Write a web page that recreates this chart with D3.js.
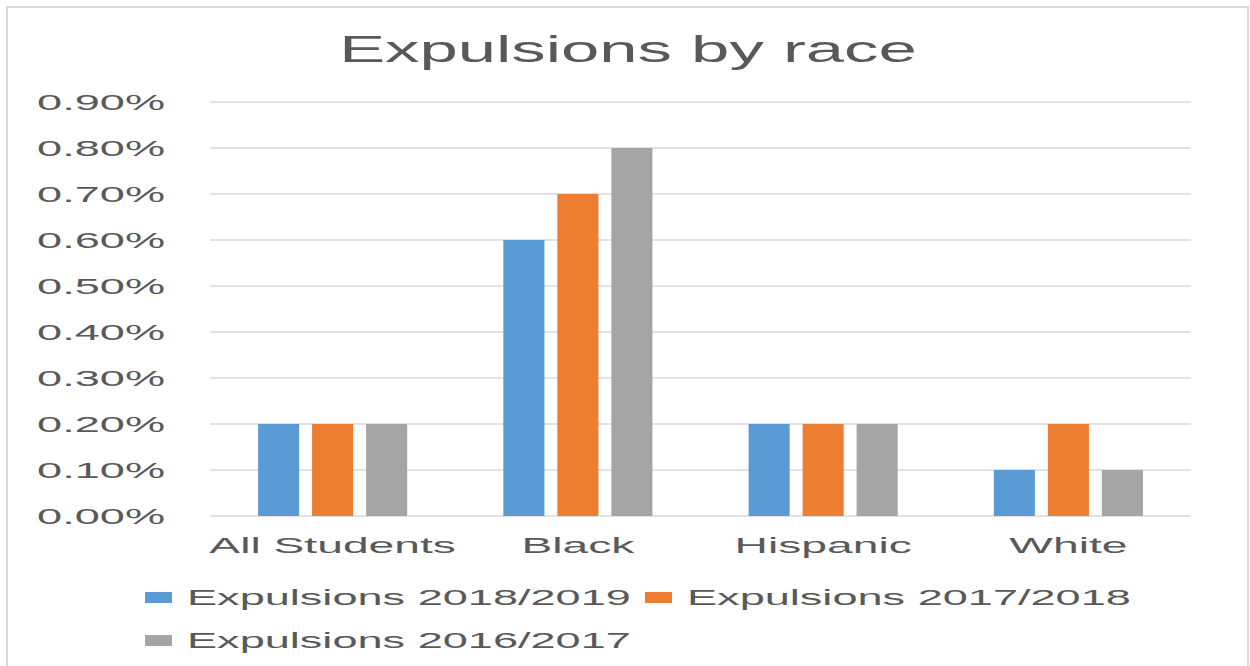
<!DOCTYPE html>
<html>
<head>
<meta charset="utf-8">
<script src="https://cdn.jsdelivr.net/npm/d3@7"></script>
<style>
  body { margin: 0; background: #fff; }
  text { font-family: "Liberation Sans", Arial, sans-serif; fill: #595959; }
</style>
</head>
<body>
<div id="chart"></div>
<script>
// data
const categories = ["All Students", "Black", "Hispanic", "White"];
const seriesNames = ["Expulsions 2018/2019", "Expulsions 2017/2018", "Expulsions 2016/2017"];
const values2018 = [0.2, 0.6, 0.2, 0.1];
const values2017 = [0.2, 0.7, 0.2, 0.2];
const values2016 = [0.2, 0.8, 0.2, 0.1];
const yTicks = [0, 0.1, 0.2, 0.3, 0.4, 0.5, 0.6, 0.7, 0.8, 0.9];
const colors = ["#5B9BD5", "#ED7D31", "#A5A5A5"];

const seriesValues = [values2018, values2017, values2016];
const rows = categories.map((c, i) => ({
  cat: c,
  vals: seriesNames.map((s, j) => ({ key: s, value: seriesValues[j][i] }))
}));

const width = 1250, height = 666;
const plot = { left: 210, right: 1191, top: 102, bottom: 516 };

const svg = d3.select("#chart").append("svg")
  .attr("width", width)
  .attr("height", height);

// stretched text helper: glyphs are wide in the original
function stretch(sel, factor) {
  sel.each(function() {
    const w = this.getComputedTextLength();
    d3.select(this).attr("textLength", w * factor).attr("lengthAdjust", "spacingAndGlyphs");
  });
}

// chart border
svg.append("rect")
  .attr("x", 7).attr("y", 7)
  .attr("width", 1241).attr("height", 680)
  .attr("fill", "none")
  .attr("stroke", "#d9d9d9")
  .attr("stroke-width", 2);

// title
svg.append("text")
  .attr("x", 628).attr("y", 62)
  .attr("text-anchor", "middle")
  .style("font-size", "37px")
  .text("Expulsions by race")
  .call(stretch, 1.86);

const y = d3.scaleLinear().domain([0, 0.9]).range([plot.bottom, plot.top]);

const x0 = d3.scaleBand()
  .domain(categories)
  .range([plot.left, plot.right]);

const x1 = d3.scaleBand()
  .domain(seriesNames)
  .range([0, x0.bandwidth()])
  .paddingInner(0.24)
  .paddingOuter(0.89);

// gridlines
svg.append("g")
  .selectAll("line")
  .data(yTicks)
  .join("line")
    .attr("x1", plot.left).attr("x2", plot.right)
    .attr("y1", d => y(d)).attr("y2", d => y(d))
    .attr("stroke", "#d9d9d9")
    .attr("stroke-width", 1.5);

// y axis labels
const yAxis = svg.append("g")
  .attr("transform", `translate(165,0)`)
  .call(d3.axisLeft(y).tickValues(yTicks).tickSize(0).tickPadding(0)
    .tickFormat(d => d.toFixed(2) + "%"));
yAxis.select(".domain").remove();
yAxis.selectAll("text")
  .style("font-size", "22px")
  .style("font-family", "\"Liberation Sans\", Arial, sans-serif")
  .attr("fill", "#595959")
  .call(stretch, 2.05);

// bars
svg.append("g")
  .selectAll("g")
  .data(rows)
  .join("g")
    .attr("transform", d => `translate(${x0(d.cat)},0)`)
  .selectAll("rect")
  .data(d => d.vals)
  .join("rect")
    .attr("x", d => x1(d.key))
    .attr("y", d => y(d.value))
    .attr("width", x1.bandwidth())
    .attr("height", d => y(0) - y(d.value))
    .attr("fill", (d, i) => colors[i]);

// x axis labels
const xAxis = svg.append("g")
  .attr("transform", `translate(0,${plot.bottom})`)
  .call(d3.axisBottom(x0).tickSize(0).tickPadding(21));
xAxis.select(".domain").remove();
xAxis.selectAll("text")
  .style("font-size", "22px")
  .style("font-family", "\"Liberation Sans\", Arial, sans-serif")
  .attr("fill", "#595959")
  .call(stretch, 2.1);

// legend
const legendPos = [[145, 592], [645, 592], [145, 635]];
const legend = svg.append("g")
  .selectAll("g")
  .data(seriesNames)
  .join("g")
    .attr("transform", (d, i) => `translate(${legendPos[i][0]},${legendPos[i][1]})`);
legend.append("rect")
  .attr("width", 27).attr("height", 11)
  .attr("fill", (d, i) => colors[i]);
legend.append("text")
  .attr("x", 42).attr("y", 13)
  .style("font-size", "22px")
  .text(d => d)
  .call(stretch, 2.05);
</script>
</body>
</html>
